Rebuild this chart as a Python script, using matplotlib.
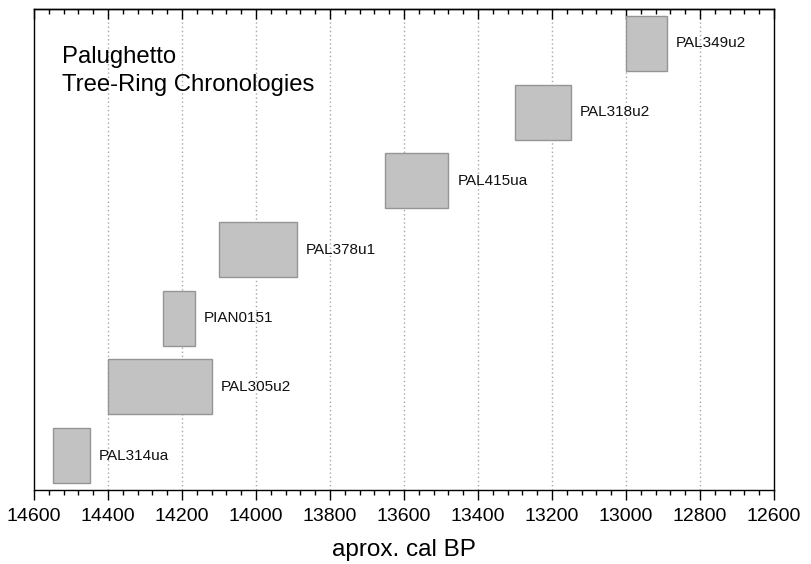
import matplotlib
matplotlib.use("Agg")
import matplotlib.pyplot as plt
from matplotlib.ticker import MultipleLocator

plt.rcParams['font.family'] = ['Liberation Sans', 'DejaVu Sans']

# ── Cronologie (cal BP): inizio più antico, fine più recente ─────────────────
names  = ['PAL314ua', 'PAL305u2', 'PIAN0151', 'PAL378u1',
          'PAL415ua', 'PAL318u2', 'PAL349u2']
starts = [14550, 14400, 14250, 14100, 13650, 13300, 13000]
ends   = [14450, 14120, 14165, 13890, 13480, 13150, 12890]
rows   = list(range(1, len(names) + 1))

fig = plt.figure(figsize=(8.11, 5.64), dpi=100, facecolor='white')
ax = fig.add_axes([34/811, 1 - 490/564, 740/811, 481/564])

# griglia verticale tratteggiata sotto i blocchi
for xv in range(14400, 12600, -200):
    ax.axvline(xv, color='#a8a8a8', linestyle=(0, (1, 2)), linewidth=1.0, zorder=0)

widths = [s - e for s, e in zip(starts, ends)]
ax.barh(rows, widths, left=ends, height=0.8,
        color='#c2c2c2', edgecolor='#959595', linewidth=1.0, zorder=2)

for r, e, n in zip(rows, ends, names):
    ax.annotate(n, xy=(e, r), xytext=(6.5, 0), textcoords='offset points',
                ha='left', va='center', fontsize=11, color='#111111')

ax.text(0.0374, 0.923, 'Palughetto\nTree-Ring Chronologies', transform=ax.transAxes,
        ha='left', va='top', fontsize=17.2, linespacing=1.38)

ax.set_xlim(14600, 12600)
ax.set_ylim(0.5, 7.5)
ax.set_yticks([])

ax.xaxis.set_major_locator(MultipleLocator(200))
ax.xaxis.set_minor_locator(MultipleLocator(40))
ax.tick_params(axis='x', which='major', direction='out', length=7, width=1.0,
               labelsize=14, pad=6)
ax.tick_params(axis='x', which='minor', direction='out', length=3.5, width=1.0)
ax.set_xlabel('aprox. cal BP', fontsize=17.5, labelpad=10)

# asse superiore con tacche rivolte all'interno
top = ax.secondary_xaxis('top')
top.xaxis.set_major_locator(MultipleLocator(200))
top.xaxis.set_minor_locator(MultipleLocator(40))
top.tick_params(which='major', direction='in', length=7, width=1.0, labeltop=False)
top.tick_params(which='minor', direction='in', length=3.5, width=1.0)
top.spines['top'].set_linewidth(1.0)

for sp in ax.spines.values():
    sp.set_linewidth(1.0)

fig.savefig('out.png', dpi=100, facecolor='white')
plt.close(fig)
